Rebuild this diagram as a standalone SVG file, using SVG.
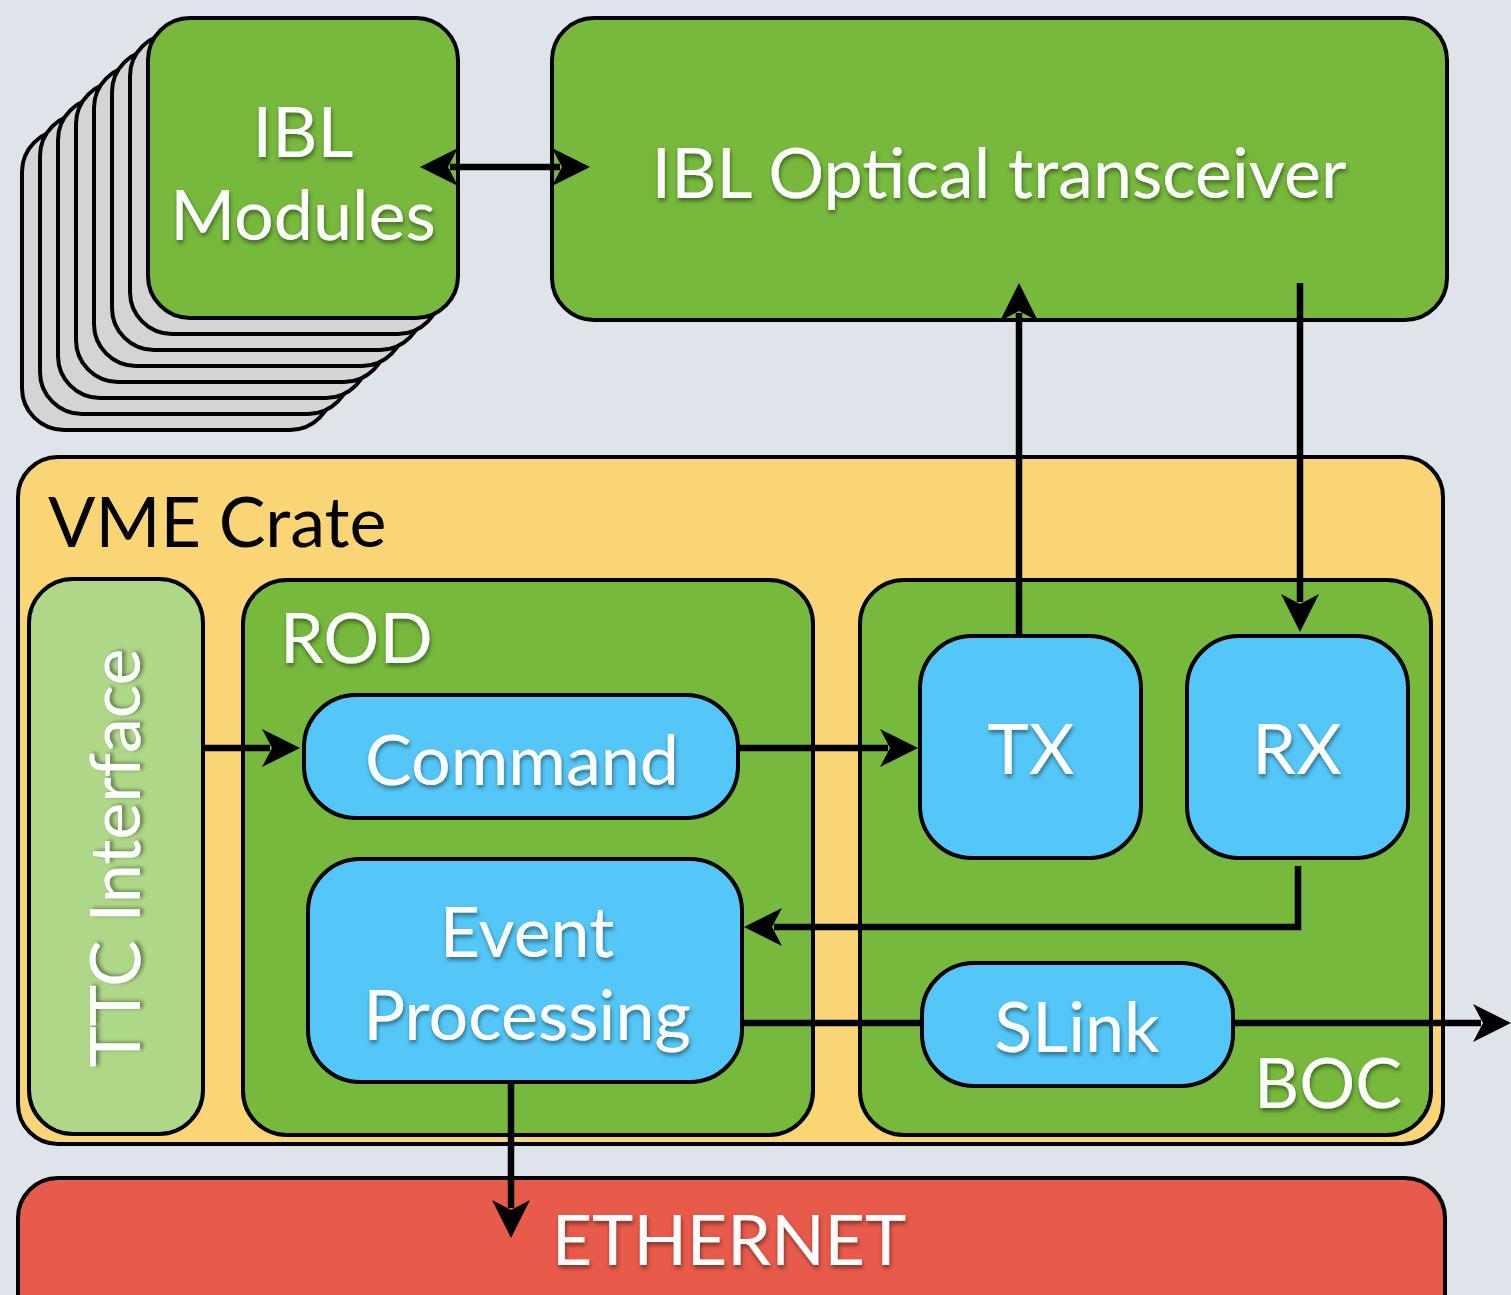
<svg xmlns="http://www.w3.org/2000/svg" width="1511" height="1295" viewBox="0 0 1511 1295">
<defs>
<style>
.bg{fill:#dfe3ea}
.card{fill:#d4d4d4;stroke:#000;stroke-width:4}
.green{fill:#76b93c;stroke:#000;stroke-width:4}
.light{fill:#aed888;stroke:#000;stroke-width:4}
.yellow{fill:#f9d575;stroke:#000;stroke-width:4}
.blue{fill:#54c7f8;stroke:#000;stroke-width:4}
.red{fill:#e85a4a;stroke:#000;stroke-width:4}
.t{font-family:Lato,"Open Sans","Liberation Sans",sans-serif;font-size:70px;fill:#fff;filter:url(#sh)}
.tb{font-family:Lato,"Open Sans","Liberation Sans",sans-serif;font-size:70px;fill:#000}
.c{text-anchor:middle}
.ln{fill:none;stroke:#000;stroke-width:6.5}
.arr{marker-end:url(#ah)}
</style>
<filter id="sh" x="-10%" y="-20%" width="120%" height="150%">
<feDropShadow dx="1" dy="3" stdDeviation="2" flood-color="#000" flood-opacity="0.45"/>
</filter>
<marker id="ah" markerUnits="userSpaceOnUse" viewBox="-40 -20 42 40" refX="-30" refY="0" markerWidth="42" markerHeight="40" orient="auto-start-reverse">
<path d="M0,0 L-38,-19 L-28,0 L-38,19 Z" fill="#000"/>
</marker>
</defs>
<rect class="bg" x="0" y="0" width="1511" height="1295"/>

<g id="ibl-modules">
<rect class="card" x="22" y="130" width="310" height="300" rx="42"/>
<rect class="card" x="40" y="114" width="310" height="300" rx="42"/>
<rect class="card" x="58" y="98" width="310" height="300" rx="42"/>
<rect class="card" x="76" y="82" width="310" height="300" rx="42"/>
<rect class="card" x="94" y="66" width="310" height="300" rx="42"/>
<rect class="card" x="112" y="50" width="310" height="300" rx="42"/>
<rect class="card" x="130" y="34" width="310" height="300" rx="42"/>
<rect class="green" x="148" y="18" width="310" height="300" rx="42"/>
<text class="t c" x="303" y="157">IBL</text>
<text class="t c" x="303" y="240">Modules</text>
</g>

<g id="optical-transceiver">
<rect class="green" x="552" y="18" width="895" height="302" rx="42"/>
<text class="t c" x="999" y="198">IBL Optical transceiver</text>
</g>

<g id="vme-crate">
<rect class="yellow" x="18" y="457" width="1425" height="687" rx="40"/>
<text class="tb" x="48" y="547">VME Crate</text>
</g>

<g id="ttc-interface">
<rect class="light" x="29" y="579" width="174" height="555" rx="44"/>
<text class="t c" transform="translate(140,858) rotate(-90)" x="0" y="0">TTC Interface</text>
</g>

<g id="rod">
<rect class="green" x="243" y="580" width="570" height="555" rx="44"/>
<text class="t" x="280" y="663">ROD</text>
</g>

<g id="boc">
<rect class="green" x="860" y="580" width="571" height="555" rx="44"/>
<text class="t" x="1254" y="1108">BOC</text>
</g>

<g id="command">
<rect class="blue" x="304" y="695" width="434" height="123" rx="52"/>
<text class="t c" x="522" y="785">Command</text>
</g>

<g id="event-processing">
<rect class="blue" x="308" y="859" width="434" height="223" rx="52"/>
<text class="t c" x="527" y="957">Event</text>
<text class="t c" x="527" y="1040">Processing</text>
</g>

<g id="tx">
<rect class="blue" x="920" y="636" width="221" height="222" rx="52"/>
<text class="t c" x="1031" y="774">TX</text>
</g>

<g id="rx">
<rect class="blue" x="1187" y="636" width="221" height="222" rx="52"/>
<text class="t c" x="1297" y="774">RX</text>
</g>

<g id="slink">
<rect class="blue" x="922" y="963" width="311" height="123" rx="52"/>
<text class="t c" x="1077" y="1052">SLink</text>
</g>

<g id="ethernet">
<rect class="red" x="18" y="1178" width="1427" height="160" rx="40"/>
<text class="t c" x="729" y="1265">ETHERNET</text>
</g>

<g id="connectors">
<path class="ln" d="M450,167 L560,167" style="marker-start:url(#ah);marker-end:url(#ah)"/>
<path class="ln arr" d="M203,748 L270,748"/>
<path class="ln arr" d="M738,748 L888,748"/>
<path class="ln arr" d="M1019,636 L1019,313"/>
<path class="ln arr" d="M1300,283 L1300,602"/>
<path class="ln arr" d="M1298,866 L1298,927 L774,927"/>
<path class="ln" d="M742,1023 L922,1023"/>
<path class="ln arr" d="M1233,1023 L1481,1023"/>
<path class="ln arr" d="M511,1082 L511,1208"/>
</g>
</svg>
